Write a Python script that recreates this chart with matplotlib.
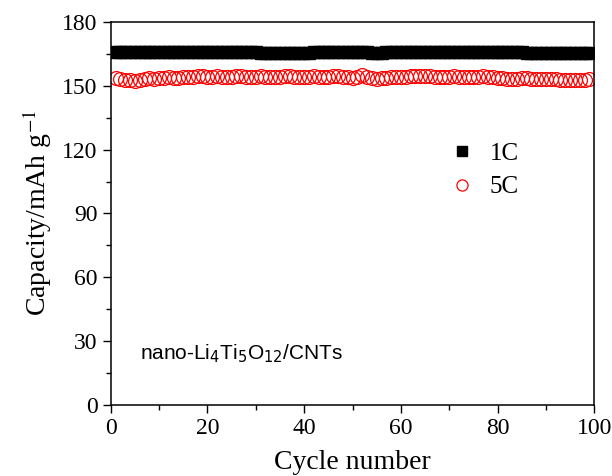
import numpy as np
import matplotlib.pyplot as plt

# cycle numbers
cycles = np.arange(1, 100)

# 1C capacity (mAh/g)
cap_1c = [165.9, 165.9, 165.8, 165.8, 165.8, 165.8, 165.9, 165.9, 165.9, 165.9,
          165.9, 165.9, 165.8, 165.8, 165.8, 165.8, 165.8, 165.8, 165.7, 165.7,
          165.7, 165.7, 165.7, 165.7, 165.7, 165.7, 165.7, 165.7, 165.7, 165.7,
          165.6, 165.6, 165.6, 165.6, 165.6, 165.6, 165.6, 165.6, 165.6, 165.6,
          165.6, 165.7, 165.7, 165.7, 165.8, 165.8, 165.9, 165.9, 165.9, 165.8,
          165.8, 165.7, 165.7, 165.6, 165.6, 165.6, 165.7, 165.7, 165.7, 165.7,
          165.7, 165.8, 165.8, 165.8, 165.8, 165.8, 165.8, 165.8, 165.8, 165.8,
          165.8, 165.7, 165.7, 165.7, 165.8, 165.8, 165.8, 165.8, 165.8, 165.8,
          165.8, 165.8, 165.8, 165.7, 165.7, 165.6, 165.6, 165.6, 165.6, 165.6,
          165.5, 165.5, 165.5, 165.5, 165.5, 165.5, 165.5, 165.5, 165.5]

# 5C capacity (mAh/g)
cap_5c = [153.8, 153.2, 152.8, 152.6, 152.4, 152.8, 153.4, 153.6, 153.4, 153.5,
          153.8, 153.9, 153.8, 153.6, 153.9, 154.2, 154.3, 154.6, 154.4, 154.2,
          154.3, 154.5, 154.2, 154.0, 154.3, 154.6, 154.7, 154.2, 154.0, 154.3,
          154.6, 154.3, 154.1, 154.0, 154.2, 154.5, 154.6, 154.3, 154.0, 154.1,
          154.2, 154.5, 154.3, 154.1, 154.3, 154.4, 154.6, 154.3, 154.0, 153.8,
          154.2, 155.0, 154.1, 153.6, 153.3, 153.7, 153.6, 153.9, 154.0, 154.2,
          154.3, 154.4, 154.6, 154.5, 154.5, 154.6, 154.3, 154.0, 154.1, 154.3,
          154.4, 154.2, 154.0, 154.1, 154.3, 154.2, 154.4, 154.2, 154.0, 153.8,
          153.6, 153.4, 153.2, 153.4, 153.6, 153.5, 153.4, 153.3, 153.4, 153.3,
          153.2, 153.0, 152.8, 152.6, 152.5, 152.5, 152.7, 152.8, 153.0]

plt.rcParams['font.family'] = ['Liberation Serif', 'DejaVu Serif']
plt.rcParams['mathtext.fontset'] = 'stix'

fig = plt.figure(figsize=(6.12, 4.76), dpi=100)
ax = fig.add_axes([0.181, 0.149, 0.790, 0.805])

ax.plot(cycles, cap_1c, 's', color='black', markersize=8.5, label='1C', linestyle='none')
ax.plot(cycles, cap_5c, 'o', markerfacecolor='none', markeredgecolor='red',
        markeredgewidth=0.9, markersize=10, label='5C', linestyle='none')

ax.set_xlim(0, 100)
ax.set_ylim(0, 180)
ax.set_xticks(np.arange(0, 101, 20))
ax.set_xticks(np.arange(0, 101, 10), minor=True)
ax.set_yticks(np.arange(0, 181, 30))
ax.set_yticks(np.arange(0, 181, 15), minor=True)
ax.tick_params(axis='both', which='major', direction='out', length=6, width=1, labelsize=17)
ax.tick_params(axis='both', which='minor', direction='out', length=3.5, width=1)
for s in ax.spines.values():
    s.set_linewidth(1.1)

ax.set_xlabel('Cycle number', fontsize=20, labelpad=8)
ax.set_ylabel('Capacity/mAh g$^{-1}$', fontsize=20, labelpad=6)

ax.legend(loc='upper left', bbox_to_anchor=(0.655, 0.745), frameon=False,
          fontsize=18, handlelength=1.0, handletextpad=0.6, labelspacing=0.45,
          markerscale=0.8)

ax.text(0.06, 0.12, 'nano-Li$_4$Ti$_5$O$_{12}$/CNTs', transform=ax.transAxes,
        fontsize=15, family='Liberation Sans', math_fontfamily='dejavusans')

fig.savefig('out.png', dpi=100)
